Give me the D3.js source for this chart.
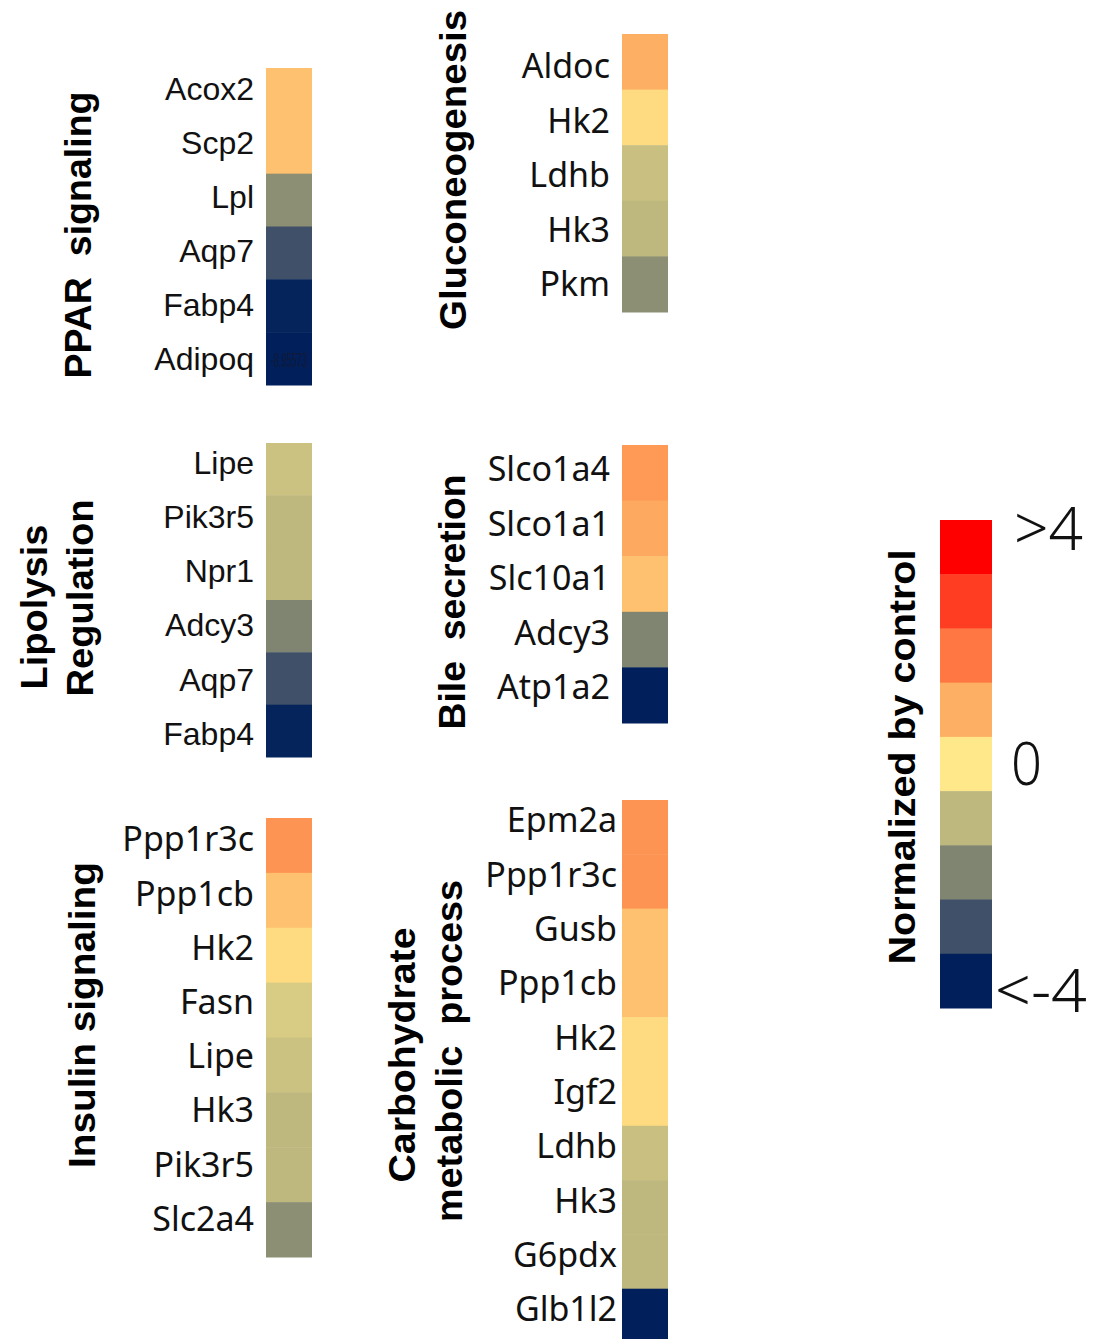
<!DOCTYPE html>
<html>
<head>
<meta charset="utf-8">
<script src="https://cdn.jsdelivr.net/npm/d3@7"></script>
<style>
  html, body { margin: 0; padding: 0; background: #fff; }
  svg { display: block; }
</style>
</head>
<body>
<div id="chart"></div>
<script>
// Gene sets and their normalized expression (log-scale, relative to control)
const pparGenes = ["Acox2", "Scp2", "Lpl", "Aqp7", "Fabp4", "Adipoq"];
const pparValues = [0.7, 0.7, -1.8, -3.0, -3.9, -8.95573];

const glucoGenes = ["Aldoc", "Hk2", "Ldhb", "Hk3", "Pkm"];
const glucoValues = [1.0, 0.25, -0.85, -1.0, -1.8];

const lipoGenes = ["Lipe", "Pik3r5", "Npr1", "Adcy3", "Aqp7", "Fabp4"];
const lipoValues = [-0.8, -1.0, -1.0, -2.0, -3.0, -3.9];

const bileGenes = ["Slco1a4", "Slco1a1", "Slc10a1", "Adcy3", "Atp1a2"];
const bileValues = [1.4, 1.1, 0.7, -2.0, -4.0];

const insulinGenes = ["Ppp1r3c", "Ppp1cb", "Hk2", "Fasn", "Lipe", "Hk3", "Pik3r5", "Slc2a4"];
const insulinValues = [1.5, 0.7, 0.25, -0.6, -0.8, -1.0, -1.0, -1.8];

const carbGenes = ["Epm2a", "Ppp1r3c", "Gusb", "Ppp1cb", "Hk2", "Igf2", "Ldhb", "Hk3", "G6pdx", "Glb1l2"];
const carbValues = [1.5, 1.5, 0.7, 0.7, 0.25, 0.25, -0.85, -1.0, -1.0, -4.0];

// Colour key: one swatch per step from +4 down to -4
const legendSteps = [4, 3, 2, 1, 0, -1, -2, -3, -4];
const legendColors = ["#ff0000", "#ff3d22", "#ff7843", "#fdb063", "#fee88a",
                      "#beb87f", "#808571", "#3f5068", "#001f5b"];
const legendTicks = [">4", "0", "<-4"];
const legendTickSteps = [4, 0, -4];

const W = 1093, H = 1339;
const svg = d3.select("#chart").append("svg")
  .attr("width", W).attr("height", H);

const color = d3.scaleLinear()
  .domain(legendSteps)
  .range(legendColors)
  .interpolate(d3.interpolateRgb)
  .clamp(true);

const arial = "'Liberation Sans', Arial, sans-serif";
const gothic = "'Noto Sans', 'Open Sans', sans-serif";

// Panel layout: cell column, vertical extent, label column and label rhythm
const panels = [
  { genes: pparGenes, values: pparValues, x: 266, top: 68, bottom: 385,
    labelX: 254, labelFirst: 88, labelStep: 54, font: arial, size: 32,
    titles: [{ text: "PPAR  signaling", bx: 91, cy: 235, len: 287 }] },
  { genes: glucoGenes, values: glucoValues, x: 622, top: 34, bottom: 312,
    labelX: 610, labelFirst: 66, labelStep: 54.5, font: gothic, size: 34,
    titles: [{ text: "Gluconeogenesis", bx: 466, cy: 170, len: 320 }] },
  { genes: lipoGenes, values: lipoValues, x: 266, top: 443, bottom: 757,
    labelX: 254, labelFirst: 462, labelStep: 54.2, font: arial, size: 32,
    titles: [{ text: "Lipolysis", bx: 47, cy: 607, len: 165 },
             { text: "Regulation", bx: 93, cy: 598, len: 197 }] },
  { genes: bileGenes, values: bileValues, x: 622, top: 445, bottom: 723,
    labelX: 610, labelFirst: 469, labelStep: 54.5, font: gothic, size: 34,
    titles: [{ text: "Bile  secretion", bx: 465, cy: 602, len: 255 }] },
  { genes: insulinGenes, values: insulinValues, x: 266, top: 818, bottom: 1257,
    labelX: 254, labelFirst: 839, labelStep: 54.2, font: gothic, size: 34,
    titles: [{ text: "Insulin signaling", bx: 95, cy: 1015, len: 306 }] },
  { genes: carbGenes, values: carbValues, x: 622, top: 800, bottom: 1343,
    labelX: 617, labelFirst: 820, labelStep: 54.3, font: gothic, size: 34,
    titles: [{ text: "Carbohydrate", bx: 415, cy: 1055, len: 255 },
             { text: "metabolic  process", bx: 462, cy: 1051, len: 342 }] }
];

const cellW = 46;

panels.forEach(p => {
  const g = svg.append("g");
  const y = d3.scaleBand().domain(p.genes).range([p.top, p.bottom]).padding(0);
  const ly = d3.scalePoint().domain(p.genes)
    .range([p.labelFirst, p.labelFirst + p.labelStep * (p.genes.length - 1)]);
  const rows = p.genes.map((gene, i) => ({ gene, value: p.values[i] }));

  g.selectAll("rect.cell").data(rows).join("rect")
    .attr("class", "cell")
    .attr("x", p.x)
    .attr("y", d => y(d.gene))
    .attr("width", cellW)
    .attr("height", y.bandwidth() + 0.5)
    .attr("fill", d => color(d.value));

  // Gene names on a left-hand axis without domain or ticks
  const axis = d3.axisLeft(ly).tickSize(0).tickPadding(0);
  const ag = g.append("g").attr("transform", `translate(${p.labelX},0)`).call(axis);
  ag.select(".domain").remove();
  ag.selectAll("text")
    .attr("fill", "#111")
    .style("font-family", p.font)
    .style("font-size", p.size + "px")
    .attr("dy", "0.35em");

  // Values beyond the colour range are printed inside their cell
  g.selectAll("text.over").data(rows.filter(d => Math.abs(d.value) > 4)).join("text")
    .attr("class", "over")
    .attr("x", p.x + cellW / 2)
    .attr("y", d => y(d.gene) + y.bandwidth() / 2 + 8)
    .attr("text-anchor", "middle")
    .attr("textLength", 36)
    .attr("lengthAdjust", "spacingAndGlyphs")
    .style("font-family", arial)
    .style("font-size", "20px")
    .attr("fill", "#141a33")
    .attr("opacity", 0.85)
    .text(d => d.value.toFixed(5));

  p.titles.forEach(t => {
    g.append("text")
      .attr("transform", `translate(${t.bx},${t.cy}) rotate(-90)`)
      .attr("text-anchor", "middle")
      .attr("textLength", t.len)
      .attr("lengthAdjust", "spacingAndGlyphs")
      .style("font-family", arial)
      .style("font-weight", "bold")
      .style("font-size", "37px")
      .style("white-space", "pre")
      .attr("fill", "#000")
      .text(t.text);
  });
});

// Colour key
const key = svg.append("g");
const ky = d3.scaleBand().domain(legendSteps).range([520, 1008]).padding(0);
key.selectAll("rect").data(legendSteps).join("rect")
  .attr("x", 940)
  .attr("y", d => ky(d))
  .attr("width", 52)
  .attr("height", ky.bandwidth() + 0.5)
  .attr("fill", d => color(d));

const tickX = [1014, 1011, 995];
const tickLen = [69, 31, 92];
const tickShift = [3, 21, 31];
key.selectAll("text.tick").data(legendTicks).join("text")
  .attr("class", "tick")
  .attr("x", (d, i) => tickX[i])
  .attr("y", (d, i) => ky(legendTickSteps[i]) + ky.bandwidth() / 2 + tickShift[i])
  .attr("textLength", (d, i) => tickLen[i])
  .attr("lengthAdjust", "spacingAndGlyphs")
  .style("font-family", gothic)
  .style("font-weight", 300)
  .style("font-size", "60px")
  .attr("fill", "#111")
  .text(d => d);

key.append("text")
  .attr("transform", "translate(915,757) rotate(-90)")
  .attr("text-anchor", "middle")
  .attr("textLength", 415)
  .attr("lengthAdjust", "spacingAndGlyphs")
  .style("font-family", arial)
  .style("font-weight", "bold")
  .style("font-size", "37px")
  .attr("fill", "#000")
  .text("Normalized by control");
</script>
</body>
</html>
